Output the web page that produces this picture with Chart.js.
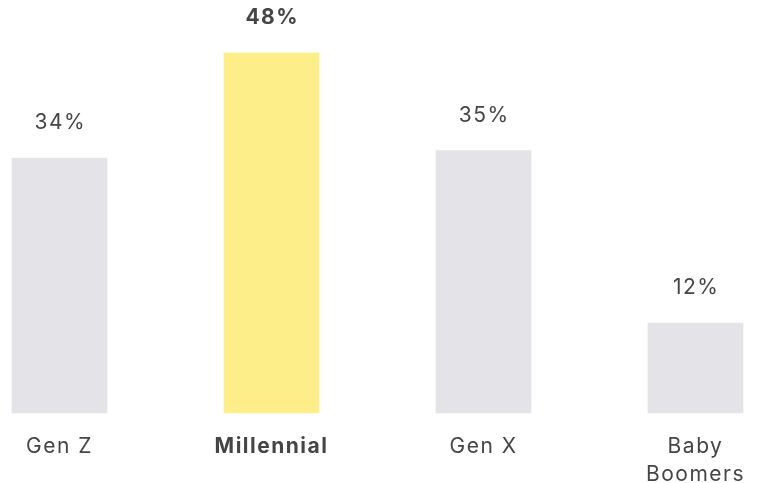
<!DOCTYPE html>
<html>
<head>
<meta charset="utf-8">
<script src="https://cdn.jsdelivr.net/npm/chart.js@4"></script>
<style>
  html, body { margin: 0; padding: 0; background: #ffffff; }
  #wrap { width: 757px; height: 483px; position: relative; }
</style>
</head>
<body>
<div id="wrap"><canvas id="c"></canvas></div>
<script>
const categories = ['Gen Z', 'Millennial', 'Gen X', ['Baby', 'Boomers']];
const shareValues = [34, 48, 35, 12];
const valueLabels = ['34%', '48%', '35%', '12%'];
const highlightIndex = 1;

const FONT = 'Inter';
const TEXT = '#454545';
const GREY = '#e3e3e8';
const YELLOW = '#fdee8a';
const SPACING = '1.5px';
const SIZE = 21;

const spacingPlugin = {
  id: 'spacing',
  beforeDraw(chart) { chart.ctx.letterSpacing = SPACING; }
};

const valueLabelPlugin = {
  id: 'valueLabels',
  afterDatasetsDraw(chart) {
    const ctx = chart.ctx;
    const meta = chart.getDatasetMeta(0);
    ctx.save();
    ctx.letterSpacing = SPACING;
    ctx.fillStyle = TEXT;
    ctx.textAlign = 'center';
    ctx.textBaseline = 'middle';
    meta.data.forEach((bar, i) => {
      ctx.font = (i === highlightIndex ? 'bold ' : '') + SIZE + 'px ' + FONT;
      ctx.fillText(valueLabels[i], bar.x + 0.75, bar.y - 35);
    });
    ctx.restore();
  }
};

new Chart(document.getElementById('c'), {
  type: 'bar',
  data: {
    labels: categories,
    datasets: [{
      data: shareValues,
      backgroundColor: shareValues.map((v, i) => i === highlightIndex ? YELLOW : GREY),
      borderWidth: 0,
      barThickness: 95,
      clip: false
    }]
  },
  options: {
    responsive: true,
    maintainAspectRatio: false,
    animation: false,
    events: [],
    layout: { padding: { top: 53, left: 59.5, right: 61.5, bottom: 0 } },
    plugins: { legend: { display: false }, tooltip: { enabled: false } },
    scales: {
      x: {
        offset: false,
        grid: { display: false, drawTicks: false },
        border: { display: false },
        afterFit(scale) {
          scale.height = 70;
          scale.paddingLeft = 0;
          scale.paddingRight = 0;
        },
        ticks: {
          autoSkip: false,
          maxRotation: 0,
          padding: 19,
          color: TEXT,
          font: (ctx) => ({ family: FONT, size: SIZE, weight: ctx.index === highlightIndex ? 'bold' : 'normal', lineHeight: 1.36 })
        }
      },
      y: {
        display: false,
        min: 0,
        max: 48
      }
    }
  },
  plugins: [spacingPlugin, valueLabelPlugin]
});
</script>
</body>
</html>
